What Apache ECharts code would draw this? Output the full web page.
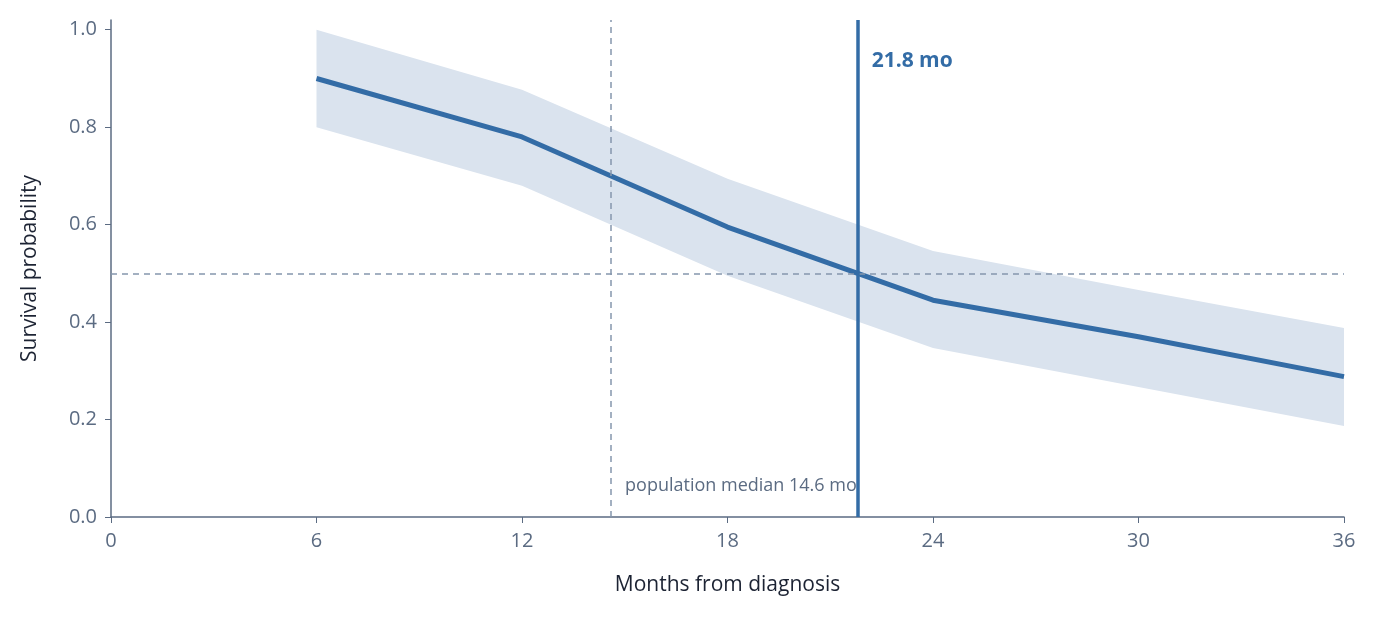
<!DOCTYPE html>
<html>
<head>
<meta charset="utf-8">
<script src="https://cdn.jsdelivr.net/npm/echarts@6/dist/echarts.min.js"></script>
<style>html,body{margin:0;padding:0;background:#fff}#chart{width:1379px;height:619px}</style>
</head>
<body>
<div id="chart"></div>
<script>
// data
const months = [6, 12, 18, 24, 30, 36];
const survival = [0.90, 0.78, 0.595, 0.445, 0.37, 0.288];
const upper = [1.0, 0.877, 0.694, 0.546, 0.466, 0.388];
const lower = [0.80, 0.68, 0.495, 0.347, 0.267, 0.187];
const medianMo = 21.8;
const popMedian = 14.6;

const axisColor = '#5b6b82';
const blue = '#336ca6';
const font = '"Open Sans", "Noto Sans", sans-serif';

let chart = echarts.init(document.getElementById('chart'));
chart.setOption({
  animation: false,
  textStyle: { fontFamily: font },
  grid: { left: 111, right: 35, top: 20, bottom: 102 },
  xAxis: {
    type: 'value', min: 0, max: 36, interval: 6,
    name: 'Months from diagnosis', nameLocation: 'middle', nameGap: 58,
    nameTextStyle: { fontSize: 21, color: '#1c2333', fontFamily: font },
    axisLine: { lineStyle: { color: axisColor, width: 1.5 } },
    axisTick: { show: true, length: 6, lineStyle: { color: axisColor } },
    axisLabel: { fontSize: 20, color: axisColor, margin: 14 },
    splitLine: { show: false }
  },
  yAxis: {
    type: 'value', min: 0, max: 1.02, interval: 0.2,
    name: 'Survival probability', nameLocation: 'middle', nameGap: 70,
    nameTextStyle: { fontSize: 21, color: '#1c2333', fontFamily: font },
    axisLine: { show: true, lineStyle: { color: axisColor, width: 1.5 } },
    axisTick: { show: true, length: 6, lineStyle: { color: axisColor } },
    axisLabel: { fontSize: 20, color: axisColor, margin: 14, formatter: v => v.toFixed(1) },
    splitLine: { show: false }
  },
  series: [
    {
      // confidence band as a polygon
      type: 'custom', silent: true, z: 1,
      data: [0],
      renderItem: function (params, api) {
        let pts = [];
        months.forEach((m, i) => pts.push(api.coord([m, upper[i]])));
        for (let i = months.length - 1; i >= 0; i--) pts.push(api.coord([months[i], lower[i]]));
        return { type: 'polygon', shape: { points: pts }, style: { fill: '#dae3ee' } };
      }
    },
    {
      type: 'line', z: 3, data: months.map((m, i) => [m, survival[i]]),
      symbol: 'none', lineStyle: { color: blue, width: 5 },
      markLine: {
        symbol: 'none', silent: true, label: { show: false },
        data: [
          { yAxis: 0.5, lineStyle: { color: '#8597ad', type: [6, 5], width: 1.5 } },
          { xAxis: popMedian, lineStyle: { color: '#8597ad', type: [6, 5], width: 1.5 } },
          { xAxis: medianMo, lineStyle: { color: blue, type: 'solid', width: 3.5 } }
        ]
      },
      markPoint: {
        symbol: 'circle', symbolSize: 0, silent: true,
        data: [
          { coord: [popMedian, 0.063], label: { show: true, position: 'right', distance: 14,
            formatter: 'population median 14.6 mo', color: axisColor, fontSize: 18 } },
          { coord: [medianMo, 0.935], label: { show: true, position: 'right', distance: 14,
            formatter: '21.8 mo', color: blue, fontSize: 21, fontWeight: 'bold' } }
        ]
      }
    }
  ]
});
</script>
</body>
</html>
